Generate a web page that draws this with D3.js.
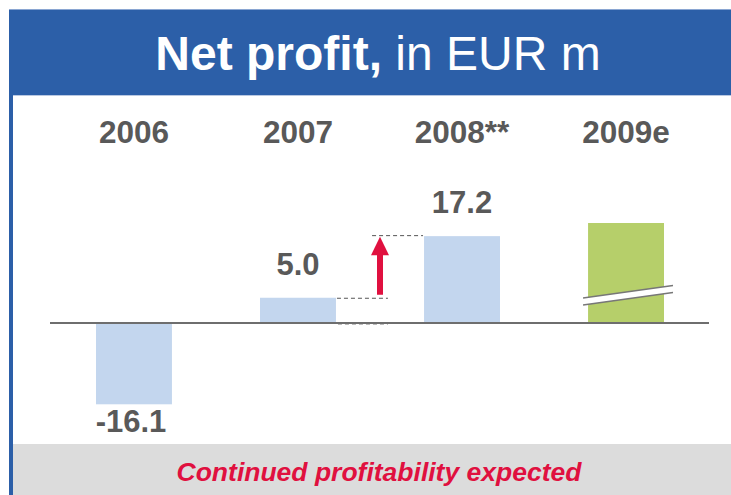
<!DOCTYPE html>
<html>
<head>
<meta charset="utf-8">
<script src="https://cdn.jsdelivr.net/npm/d3@7"></script>
<style>
  body { margin: 0; background: #fff; }
  svg { display: block; font-family: "Liberation Sans", Arial, sans-serif; }
</style>
</head>
<body>
<div id="chart"></div>
<script>
// data
const years = ["2006", "2007", "2008**", "2009e"];
const netProfit = [-16.1, 5.0, 17.2, 19.8];   // 2009e is an estimate, drawn with a break, no label
const valueLabels = ["-16.1", "5.0", "17.2", ""];
const barColors = ["#c3d6ee", "#c3d6ee", "#c3d6ee", "#b6cf6a"];

const W = 731, H = 495;

const svg = d3.select("#chart")
    .append("svg")
    .attr("width", W)
    .attr("height", H);

// frame: blue header, left border, grey footer
svg.append("rect").attr("x", 9).attr("y", 9).attr("width", W - 9).attr("height", 86).attr("fill", "#2c5fa8");
svg.append("line").attr("x1", 9).attr("x2", W).attr("y1", 9.5).attr("y2", 9.5).attr("stroke", "#8aa6d2").attr("stroke-width", 1);
svg.append("line").attr("x1", 13).attr("x2", W).attr("y1", 95.5).attr("y2", 95.5).attr("stroke", "#b9c8e2").attr("stroke-width", 1);
svg.append("rect").attr("x", 9).attr("y", 95).attr("width", 4).attr("height", H - 95).attr("fill", "#2c5fa8");
svg.append("rect").attr("x", 13).attr("y", 444).attr("width", W - 13).attr("height", H - 444).attr("fill", "#dcdcdc");

// title
const title = svg.append("text")
    .attr("x", 378)
    .attr("y", 70)
    .attr("text-anchor", "middle")
    .attr("fill", "#fff")
    .style("font-size", "48px");
title.append("tspan").attr("font-weight", "bold").text("Net profit,");
title.append("tspan").text(" in EUR m");

// footer
svg.append("text")
    .attr("x", 379)
    .attr("y", 481)
    .attr("text-anchor", "middle")
    .attr("fill", "#e0103f")
    .attr("font-weight", "bold")
    .attr("font-style", "italic")
    .style("font-size", "26.5px")
    .text("Continued profitability expected");

// scales
const x = d3.scaleBand()
    .domain(years)
    .range([96, 664])
    .paddingInner(0.537)
    .paddingOuter(0);

const y = d3.scaleLinear()
    .domain([0, 20])
    .range([323, 222]);

// year headings
svg.selectAll(".year")
    .data(years)
    .join("text")
    .attr("class", "year")
    .attr("x", d => x(d) + x.bandwidth() / 2)
    .attr("y", 143)
    .attr("text-anchor", "middle")
    .attr("fill", "#595959")
    .attr("font-weight", "bold")
    .style("font-size", "31.5px")
    .text(d => d);

// bars
svg.selectAll(".bar")
    .data(netProfit)
    .join("rect")
    .attr("class", "bar")
    .attr("x", (d, i) => x(years[i]))
    .attr("y", d => y(Math.max(0, d)))
    .attr("width", x.bandwidth())
    .attr("height", d => Math.abs(y(d) - y(0)))
    .attr("fill", (d, i) => barColors[i]);

// value labels
svg.selectAll(".val")
    .data(netProfit)
    .join("text")
    .attr("class", "val")
    .attr("x", (d, i) => x(years[i]) + x.bandwidth() / 2 - (d < 0 ? 3 : 0))
    .attr("y", d => d < 0 ? y(d) + 28 : y(d) - 23)
    .attr("text-anchor", "middle")
    .attr("fill", "#595959")
    .attr("font-weight", "bold")
    .style("font-size", "31px")
    .text((d, i) => valueLabels[i]);

// zero axis
svg.append("line")
    .attr("x1", 50).attr("x2", 709)
    .attr("y1", y(0)).attr("y2", y(0))
    .attr("stroke", "#6e6e6e").attr("stroke-width", 2);

// connector dashes between 2007 and 2008
const x07 = x(years[1]) + x.bandwidth();
const x08 = x(years[2]);
const gap = d3.scaleLinear().domain([0, 1]).range([x07, x08]);
svg.append("line")
    .attr("x1", x07 + 1).attr("x2", gap(0.59))
    .attr("y1", y(netProfit[1]) + 0.5).attr("y2", y(netProfit[1]) + 0.5)
    .attr("stroke", "#555").attr("stroke-dasharray", "4,3");
svg.append("line")
    .attr("x1", x07 + 2).attr("x2", gap(0.59))
    .attr("y1", y(0) + 1.5).attr("y2", y(0) + 1.5)
    .attr("stroke", "#bbb").attr("stroke-dasharray", "4,3");
svg.append("line")
    .attr("x1", gap(0.41)).attr("x2", x08 - 1)
    .attr("y1", y(netProfit[2]) - 0.5).attr("y2", y(netProfit[2]) - 0.5)
    .attr("stroke", "#555").attr("stroke-dasharray", "4,3");

// red growth arrow
const ax = gap(0.5);
svg.append("rect")
    .attr("x", ax - 3).attr("y", y(netProfit[2]) + 17)
    .attr("width", 6).attr("height", y(netProfit[1]) - 3 - (y(netProfit[2]) + 17))
    .attr("fill", "#e0103f");
svg.append("path")
    .attr("d", d3.line()([[ax, y(netProfit[2]) + 0.5], [ax - 9, y(netProfit[2]) + 19], [ax + 9, y(netProfit[2]) + 19]]) + "Z")
    .attr("fill", "#e0103f");

// axis break on the 2009e bar
const bx0 = x(years[3]) - 5, bx1 = x(years[3]) + x.bandwidth() + 9;
svg.append("path")
    .attr("d", d3.line()([[bx0, 298], [bx1, 285.5], [bx1, 292.5], [bx0, 305]]) + "Z")
    .attr("fill", "#fff");
[[298, 285.5], [305, 292.5]].forEach(([ya, yb]) => {
    svg.append("line")
        .attr("x1", bx0).attr("y1", ya)
        .attr("x2", bx1).attr("y2", yb)
        .attr("stroke", "#777").attr("stroke-width", 1.5);
});
</script>
</body>
</html>
